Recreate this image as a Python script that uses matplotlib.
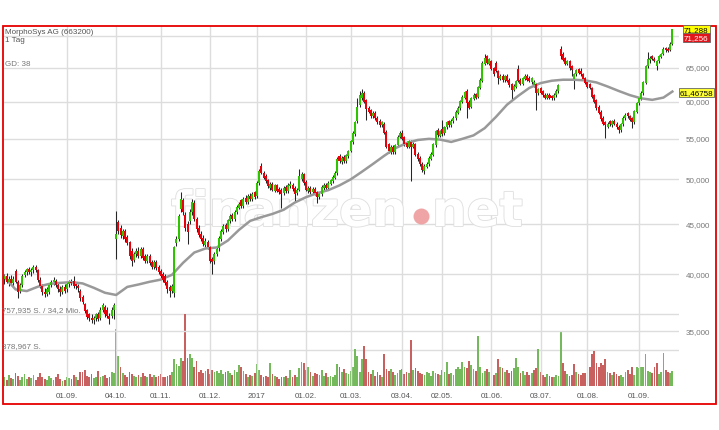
import numpy as np
import pandas as pd
import matplotlib
matplotlib.use('Agg')
import matplotlib.pyplot as plt
import matplotlib.patheffects as pe
from matplotlib.patches import Rectangle
from matplotlib.transforms import blended_transform_factory

plt.rcParams['font.family'] = ['Liberation Sans', 'DejaVu Sans']

# trading days 25.07.2016 - 22.09.2017 (exchange holidays removed)
holidays = ['2016-10-03', '2016-12-26', '2017-04-14', '2017-04-17', '2017-05-01']
days = pd.bdate_range('2016-07-25', '2017-09-22')
days = days[~days.isin(pd.to_datetime(holidays))]

opens = [
    39.6, 39.8, 39.3, 39.6, 39.2, 40.3, 39.3, 38.5, 39.0, 39.9,
    40.2, 40.5, 40.2, 40.4, 40.7, 40.4, 39.5, 38.9, 38.4, 38.2,
    38.4, 39.0, 39.3, 39.4, 39.0, 38.6, 38.4, 38.8, 38.6, 39.1,
    39.3, 39.4, 39.1, 38.9, 38.5, 37.9, 37.3, 36.8, 36.4, 36.1,
    35.9, 36.1, 36.4, 36.1, 36.8, 37.0, 36.8, 36.3, 36.3, 36.8,
    43.5, 45.2, 44.6, 43.8, 44.3, 43.7, 43.2, 42.3, 41.4, 42.0,
    42.3, 41.8, 42.4, 41.8, 41.3, 41.8, 41.2, 40.7, 41.2, 40.7,
    40.3, 40.0, 39.8, 39.3, 38.8, 38.5, 38.3, 43.1, 43.5, 46.6,
    47.6, 46.0, 45.0, 45.3, 46.3, 47.3, 45.6, 44.6, 44.0, 43.6,
    42.9, 43.2, 42.6, 41.5, 41.3, 42.0, 42.5, 43.5, 44.2, 44.9,
    44.5, 45.3, 46.0, 45.5, 46.3, 46.8, 47.6, 47.0, 47.9, 47.4,
    48.1, 47.7, 48.5, 48.1, 49.6, 51.6, 50.8, 50.4, 49.9, 49.0,
    49.5, 48.7, 49.3, 48.9, 48.8, 48.4, 49.1, 48.6, 49.2, 49.4,
    49.0, 48.4, 48.8, 50.0, 50.6, 49.7, 48.6, 49.0, 48.5, 48.9,
    48.5, 48.0, 48.3, 49.0, 49.4, 49.0, 49.5, 49.8, 50.2, 50.7,
    52.8, 52.1, 52.7, 52.2, 52.8, 53.5, 54.6, 55.6, 57.3, 59.5,
    60.5, 61.2, 60.2, 59.2, 58.8, 58.0, 58.5, 57.8, 57.4, 56.8,
    57.0, 55.9, 54.3, 53.3, 54.0, 53.3, 54.2, 55.3, 55.8, 55.2,
    54.5, 54.0, 54.6, 54.0, 54.3, 53.1, 52.6, 51.9, 51.0, 51.5,
    51.8, 52.5, 53.0, 54.2, 56.2, 55.4, 56.3, 55.7, 56.5, 57.3,
    56.8, 57.3, 57.7, 58.5, 59.1, 60.0, 60.6, 61.6, 60.0, 59.3,
    60.4, 61.1, 60.7, 62.0, 63.0, 65.6, 66.8, 65.6, 66.0, 64.9,
    65.8, 64.5, 63.3, 63.8, 63.1, 63.8, 63.2, 62.5, 61.7, 62.2,
    64.8, 63.2, 62.6, 63.3, 63.8, 63.5, 62.8, 62.4, 62.5, 61.2,
    62.0, 61.5, 61.0, 60.6, 61.0, 60.8, 60.5, 60.9, 61.5, 68.0,
    67.2, 66.5, 65.6, 66.0, 65.2, 63.3, 64.0, 64.8, 64.5, 64.0,
    63.4, 62.8, 62.5, 62.0, 60.9, 60.2, 59.3, 58.6, 57.8, 57.2,
    56.6, 57.3, 56.8, 57.4, 57.0, 56.6, 56.1, 56.9, 57.7, 58.4,
    58.0, 57.7, 57.2, 58.6, 59.8, 60.4, 61.2, 62.7, 65.2, 66.2,
    66.8, 66.4, 65.3, 66.0, 66.7, 67.2, 68.1, 68.0, 67.8, 68.8,
]
highs = [
    40.0, 40.1, 39.8, 39.9, 39.8, 40.5, 39.5, 39.2, 40.0, 40.4,
    40.6, 40.7, 40.6, 40.9, 40.9, 40.5, 39.7, 39.1, 38.7, 38.8,
    39.2, 39.5, 39.7, 39.6, 39.2, 38.9, 39.0, 39.1, 39.3, 39.5,
    39.6, 39.8, 39.3, 39.1, 38.6, 38.1, 37.4, 36.9, 36.5, 36.4,
    36.3, 36.5, 36.6, 37.0, 37.4, 37.2, 37.0, 36.5, 37.0, 37.4,
    46.4, 45.4, 44.9, 44.5, 44.5, 43.9, 43.3, 42.5, 42.2, 42.5,
    42.6, 42.6, 42.6, 42.0, 42.0, 42.0, 41.4, 41.4, 41.4, 40.9,
    40.5, 40.2, 40.0, 39.5, 39.0, 39.1, 42.8, 43.8, 46.1, 48.5,
    47.9, 46.3, 45.3, 46.6, 47.8, 47.6, 45.8, 44.9, 44.3, 43.9,
    43.6, 43.4, 42.8, 41.7, 42.2, 42.6, 43.8, 44.5, 45.0, 45.1,
    45.6, 46.1, 46.2, 46.5, 47.1, 47.4, 47.8, 48.0, 48.2, 48.3,
    48.4, 48.5, 48.7, 49.8, 51.2, 52.0, 51.0, 50.6, 50.1, 49.7,
    49.7, 49.5, 49.5, 49.1, 49.0, 49.2, 49.3, 49.6, 49.8, 49.6,
    49.2, 49.0, 51.2, 50.9, 50.8, 49.9, 49.2, 49.2, 49.1, 49.1,
    48.7, 48.5, 49.3, 49.6, 49.6, 49.8, 50.1, 50.5, 51.0, 52.7,
    53.1, 52.8, 52.9, 53.1, 53.6, 54.9, 56.0, 57.4, 60.5, 61.5,
    61.8, 61.5, 60.4, 59.4, 59.0, 58.7, 58.7, 58.0, 57.6, 57.4,
    57.2, 56.1, 54.5, 54.2, 54.2, 54.4, 55.5, 56.0, 56.2, 55.4,
    54.7, 54.9, 54.8, 54.6, 54.5, 53.3, 52.8, 52.1, 51.8, 52.1,
    52.8, 53.3, 54.5, 56.2, 56.4, 56.2, 57.5, 56.7, 57.4, 57.5,
    57.6, 58.0, 58.8, 59.4, 60.3, 60.9, 61.6, 61.8, 60.2, 60.7,
    61.2, 61.3, 62.3, 63.4, 66.0, 67.2, 67.0, 66.5, 66.2, 65.1,
    66.0, 64.7, 64.0, 64.0, 63.9, 64.0, 63.4, 62.7, 62.5, 63.2,
    65.5, 63.4, 63.6, 64.0, 64.0, 63.7, 63.6, 63.1, 62.7, 62.0,
    62.2, 61.7, 61.2, 61.2, 61.2, 61.0, 61.2, 61.8, 62.6, 68.4,
    67.4, 66.7, 66.2, 66.2, 65.4, 64.2, 64.8, 65.0, 65.0, 64.2,
    63.6, 63.0, 62.7, 62.2, 61.1, 60.4, 59.5, 58.8, 58.0, 57.4,
    57.2, 57.5, 57.5, 57.6, 57.2, 56.8, 57.1, 58.1, 58.4, 58.6,
    58.2, 57.9, 58.9, 60.0, 60.7, 61.5, 63.0, 65.5, 67.5, 66.8,
    67.0, 66.6, 66.2, 67.0, 67.3, 68.2, 68.3, 68.2, 69.0, 71.288,
]
lows = [
    39.1, 39.2, 38.9, 39.1, 38.9, 39.2, 37.8, 38.3, 38.8, 39.7,
    39.9, 40.0, 39.8, 40.1, 40.2, 39.3, 38.7, 38.1, 37.9, 38.0,
    38.2, 38.8, 39.0, 38.8, 38.4, 38.0, 38.2, 38.3, 38.4, 38.8,
    39.0, 38.7, 38.6, 38.4, 37.6, 37.3, 36.5, 36.0, 35.8, 35.7,
    35.6, 35.8, 35.8, 35.9, 36.6, 36.2, 36.1, 35.6, 36.1, 36.0,
    41.5, 44.0, 43.6, 43.5, 43.2, 42.9, 41.5, 40.8, 41.2, 41.7,
    41.6, 41.6, 41.4, 41.1, 41.1, 40.9, 40.5, 40.5, 40.4, 40.0,
    39.6, 39.3, 39.0, 38.3, 37.9, 38.3, 37.9, 42.8, 43.3, 46.3,
    46.0, 44.3, 43.0, 45.0, 46.0, 45.3, 44.2, 43.7, 43.3, 42.8,
    42.7, 42.4, 41.1, 40.0, 41.0, 41.8, 42.3, 43.3, 44.0, 44.2,
    44.3, 45.1, 45.3, 45.3, 46.1, 46.6, 46.8, 46.8, 47.2, 47.2,
    47.5, 47.5, 47.8, 47.9, 49.4, 50.6, 50.0, 49.6, 49.0, 48.8,
    48.6, 48.5, 48.5, 48.3, 46.8, 48.2, 48.4, 48.4, 49.0, 48.7,
    47.4, 48.2, 48.6, 49.8, 49.4, 48.6, 48.4, 48.3, 48.3, 48.2,
    47.3, 47.8, 48.1, 48.8, 48.8, 48.8, 49.3, 49.6, 50.0, 50.5,
    52.0, 51.9, 52.0, 52.0, 52.6, 53.3, 54.4, 55.4, 57.1, 59.3,
    60.3, 59.8, 57.5, 58.4, 57.8, 57.8, 57.5, 57.0, 56.6, 56.6,
    55.6, 53.8, 53.2, 53.1, 53.1, 53.1, 54.0, 55.1, 54.8, 54.1,
    53.8, 53.8, 49.8, 53.8, 52.8, 52.2, 51.6, 50.9, 50.6, 51.3,
    51.6, 52.3, 52.8, 54.0, 55.3, 55.2, 55.4, 55.5, 56.3, 56.6,
    56.6, 57.1, 57.5, 58.3, 58.9, 59.8, 60.4, 57.8, 59.0, 59.1,
    60.2, 60.4, 60.5, 61.8, 62.8, 65.4, 65.6, 65.4, 64.6, 63.8,
    64.3, 62.5, 63.1, 62.9, 62.9, 62.8, 62.2, 60.3, 61.5, 62.0,
    62.8, 62.4, 62.4, 63.1, 63.0, 62.8, 62.6, 62.2, 58.8, 61.0,
    61.1, 60.7, 60.4, 60.4, 60.4, 60.3, 60.3, 60.7, 61.3, 66.3,
    66.0, 65.4, 65.4, 64.7, 63.8, 61.8, 63.8, 64.0, 63.8, 63.1,
    62.5, 62.0, 61.8, 60.5, 59.8, 58.9, 58.3, 57.4, 56.8, 55.1,
    56.4, 56.7, 56.6, 56.8, 56.3, 55.7, 55.9, 56.7, 57.5, 57.8,
    57.3, 56.4, 57.0, 58.4, 59.6, 60.2, 61.0, 62.5, 65.0, 65.8,
    66.2, 65.9, 64.7, 65.8, 66.5, 67.0, 67.5, 67.4, 67.6, 68.6,
]
closes = [
    39.8, 39.3, 39.6, 39.2, 39.6, 39.3, 38.4, 39.0, 39.8, 40.2,
    40.5, 40.2, 40.4, 40.7, 40.4, 39.5, 38.9, 38.4, 38.2, 38.6,
    39.0, 39.3, 39.5, 39.0, 38.6, 38.4, 38.8, 38.5, 39.1, 39.3,
    39.2, 38.9, 38.9, 38.7, 37.8, 37.5, 36.7, 36.2, 36.1, 35.9,
    36.1, 36.4, 36.0, 36.8, 37.2, 36.4, 36.3, 36.0, 36.8, 37.2,
    44.0, 44.3, 43.9, 44.3, 43.5, 43.1, 41.8, 41.3, 42.0, 42.3,
    41.8, 42.4, 41.6, 41.3, 41.8, 41.1, 40.7, 41.2, 40.6, 40.2,
    39.8, 39.5, 39.2, 38.6, 38.5, 38.9, 42.6, 43.5, 45.9, 47.8,
    46.3, 44.6, 44.2, 46.3, 47.4, 45.6, 44.5, 43.9, 43.5, 43.0,
    43.3, 42.6, 41.3, 41.2, 42.0, 42.4, 43.6, 44.3, 44.8, 44.5,
    45.4, 45.9, 45.5, 46.3, 46.9, 47.2, 47.0, 47.8, 47.4, 48.1,
    47.7, 48.3, 48.0, 49.6, 51.0, 50.8, 50.2, 49.8, 49.2, 49.5,
    48.8, 49.3, 48.7, 48.5, 48.3, 49.0, 48.6, 49.4, 49.5, 48.9,
    48.3, 48.8, 50.4, 50.6, 49.6, 48.8, 49.0, 48.5, 48.9, 48.4,
    48.0, 48.3, 49.1, 49.4, 49.0, 49.6, 49.9, 50.3, 50.8, 52.5,
    52.2, 52.6, 52.2, 52.9, 53.4, 54.7, 55.8, 57.2, 59.3, 61.0,
    61.3, 60.0, 59.0, 58.6, 58.0, 58.5, 57.7, 57.2, 56.8, 57.2,
    55.8, 54.0, 53.4, 54.0, 53.3, 54.2, 55.3, 55.8, 55.0, 54.3,
    54.0, 54.7, 54.0, 54.4, 53.0, 52.4, 51.8, 51.1, 51.6, 51.9,
    52.6, 53.1, 54.3, 56.0, 55.5, 56.0, 55.6, 56.5, 57.2, 56.8,
    57.4, 57.8, 58.6, 59.2, 60.1, 60.7, 61.4, 59.8, 59.2, 60.5,
    61.0, 60.6, 62.1, 63.2, 65.8, 66.5, 65.8, 66.3, 64.8, 64.0,
    64.5, 63.4, 63.8, 63.1, 63.7, 63.0, 62.4, 61.7, 62.3, 63.0,
    63.0, 62.6, 63.4, 63.8, 63.2, 63.0, 63.4, 62.9, 61.2, 61.8,
    61.3, 60.9, 60.6, 61.0, 60.6, 60.5, 61.0, 61.6, 62.4, 66.9,
    66.2, 65.6, 66.0, 64.9, 64.6, 64.0, 64.6, 64.2, 64.0, 63.3,
    62.7, 62.2, 62.0, 60.7, 60.0, 59.1, 58.5, 57.6, 57.0, 56.8,
    57.0, 56.9, 57.3, 57.0, 56.5, 56.1, 56.9, 57.8, 58.2, 58.0,
    57.5, 57.2, 58.7, 59.8, 60.5, 61.3, 62.8, 65.3, 66.3, 66.5,
    66.4, 66.1, 66.0, 66.8, 67.1, 68.0, 67.7, 67.6, 68.8, 71.256,
]
# volume in 1000 shares
volume = [
    90, 60, 120, 80, 70, 140, 110, 60, 90, 130,
    70, 100, 80, 120, 60, 90, 140, 100, 70, 60,
    110, 80, 60, 90, 130, 70, 50, 60, 100, 80,
    70, 120, 90, 60, 145, 150, 170, 110, 90, 130,
    80, 100, 160, 90, 110, 120, 80, 100, 150, 140,
    600, 315, 200, 140, 120, 100, 150, 130, 110, 100,
    120, 90, 140, 110, 100, 130, 90, 120, 100, 110,
    130, 100, 90, 110, 120, 150, 280, 230, 210, 290,
    260, 755, 290, 335, 300, 200, 260, 150, 170, 140,
    160, 180, 130, 170, 150, 160, 140, 170, 130, 150,
    160, 140, 120, 170, 150, 220, 200, 160, 130, 100,
    120, 110, 140, 230, 170, 120, 100, 110, 90, 240,
    130, 110, 100, 70, 90, 100, 110, 80, 170, 100,
    120, 90, 190, 250, 240, 170, 200, 150, 110, 140,
    130, 120, 170, 110, 140, 90, 110, 100, 120, 230,
    200, 150, 180, 140, 130, 160, 200, 390, 315, 150,
    280, 420, 280, 150, 130, 170, 110, 150, 120, 100,
    335, 180, 160, 180, 150, 120, 140, 170, 180, 130,
    150, 140, 483, 170, 190, 160, 140, 130, 120, 150,
    140, 110, 160, 140, 130, 120, 170, 150, 250, 130,
    140, 120, 180, 200, 180, 250, 200, 190, 260, 220,
    180, 160, 525, 200, 140, 160, 180, 150, 170, 120,
    140, 280, 200, 190, 150, 170, 140, 160, 190, 300,
    200, 140, 160, 120, 150, 120, 140, 170, 190, 385,
    150, 120, 100, 130, 110, 100, 90, 120, 110, 577,
    245, 160, 130, 110, 120, 230, 150, 130, 120, 140,
    140, 120, 200, 335, 365, 240, 200, 240, 220, 280,
    150, 140, 120, 150, 130, 110, 120, 100, 150, 170,
    130, 200, 120, 200, 190, 200, 200, 335, 160, 150,
    140, 200, 240, 130, 150, 350, 170, 150, 140, 160,
]
# GD 38 read every 5th trading day, plus the last day
ma_values = [
    39.75, 38.6, 38.45, 38.85, 39.1, 39.2, 39.27, 39.15, 38.75, 38.3,
    38.1, 38.83, 39.05, 39.3, 39.5, 39.95, 41.1, 42.1, 42.5, 42.6,
    43.3, 44.4, 45.35, 45.75, 46.1, 46.55, 47.35, 47.95, 48.4, 48.75,
    49.3, 50.0, 50.9, 51.85, 52.85, 53.8, 54.45, 54.85, 55.0, 54.9,
    54.6, 55.0, 55.45, 56.4, 57.9, 59.6, 60.85, 62.0, 62.7, 63.05,
    63.2, 63.2, 63.1, 62.8, 62.2, 61.55, 60.95, 60.5, 60.28, 60.6,
    61.46758,
]
price_levels = [35, 40, 45, 50, 55, 60, 65, 70]
vol_levels = [378967, 757935]
tick_dates = ['2016-09-01', '2016-10-04', '2016-11-01', '2016-12-01', '2017-01-02',
              '2017-02-01', '2017-03-01', '2017-04-03', '2017-05-02', '2017-06-01',
              '2017-07-03', '2017-08-01', '2017-09-01']
tick_labels = ['01.09.', '04.10.', '01.11.', '01.12.', '2017', '01.02.', '01.03.',
               '03.04.', '02.05.', '01.06.', '03.07.', '01.08.', '01.09.']

W, H = 719, 431
def fx(x):
    return x / W
def fy(y):
    return 1 - y / H

o = np.array(opens); c = np.array(closes)
hi = np.array(highs); lo = np.array(lows)
vol = np.array(volume) * 1000
n = len(c)
idx = np.arange(n)
ticks = [days.get_loc(pd.Timestamp(d)) for d in tick_dates]

green, red = '#2fc400', '#e8000b'
cand_col = np.where(c >= o, green, red)
prev = np.concatenate([[c[0]], c[:-1]])
vol_col = np.where(c >= prev, '#74b95c', '#c96060')

fig = plt.figure(figsize=(W / 100, H / 100), dpi=100)
rect = [fx(3), fy(387), (679 - 3) / W, (387 - 27) / H]
ax_v = fig.add_axes(rect)
ax = fig.add_axes(rect)
ax.patch.set_visible(False)

# volume panel
ax_v.bar(idx, vol, width=0.8, color=vol_col, edgecolor='none', zorder=2)
for v in vol_levels:
    ax_v.axhline(v, color='#dddddd', lw=1, zorder=1)
ax_v.set_ylim(0, 757935 * 360 / 72)
ax_v.set_xlim(-0.63, 301.97)
ax_v.axis('off')

# price panel
ax.set_yscale('log')
ax.set_ylim(30.76, 71.71)
ax.set_xlim(-0.63, 301.97)
for p in price_levels:
    ax.axhline(p, color='#dddddd', lw=1, zorder=0.5)
for t in ticks:
    ax.axvline(t, color='#dddddd', lw=1, zorder=0.5)

# watermark
wm = dict(transform=fig.transFigure, fontsize=35, fontweight='bold', family='DejaVu Sans',
          color='white', va='baseline', ha='left', zorder=1.5,
          path_effects=[pe.Stroke(linewidth=1.3, foreground='#e0e0e0'), pe.Normal()])
ax.text(fx(171), fy(227), 'finanzen', **wm)
ax.text(fx(432), fy(227), 'net', **wm)
ax.plot([fx(421)], [fy(217)], 'o', ms=11.5, color='#efa5a5', mec='none',
        transform=fig.transFigure, zorder=1.6)

ax.vlines(idx, lo, hi, color='#262626', lw=0.75, zorder=2)
ax.plot([i * 5 for i in range(len(ma_values) - 1)] + [n - 1], ma_values,
        color='#999999', lw=1.8, zorder=2.5)
ax.bar(idx, np.maximum(np.abs(c - o), 0.05), bottom=np.minimum(o, c), width=0.9,
       color=cand_col, edgecolor='none', zorder=3)

ax.set_xticks(ticks)
ax.set_xticklabels(tick_labels)
ax.tick_params(axis='x', length=0, pad=4.2, labelsize=5.8, labelcolor='#555555')
ax.set_yticks([])
ax.yaxis.set_minor_locator(matplotlib.ticker.NullLocator())
for s in ax.spines.values():
    s.set_visible(False)

tr = blended_transform_factory(ax.transAxes, ax.transData)
for p in price_levels[:-1]:
    ax.text(1.0104, p, f'{p},000', transform=tr, fontsize=5.8, color='#777777',
            va='center', ha='left', clip_on=False)

# captions
txt = dict(fontsize=5.8, va='center', ha='left')
fig.text(fx(5), fy(32.5), 'MorphoSys AG (663200)', color='#555555', **txt)
fig.text(fx(5), fy(40.5), '1 Tag', color='#555555', **txt)
fig.text(fx(5), fy(64.5), 'GD: 38', color='#777777', **txt)
fig.text(fx(1.5), fy(311), '757,935 S. / 34,2 Mio.', color='#777777', **txt)
fig.text(fx(1.5), fy(347), '378,967 S.', color='#777777', **txt)

# last value boxes
fig.text(fx(684), fy(30.3), f'{highs[-1]:.3f}'.replace('.', ','), color='black',
         bbox=dict(boxstyle='square,pad=0.12', fc='#ffff00', ec='#666666', lw=0.6), **txt)
fig.text(fx(684), fy(38.2), f'{closes[-1]:.3f}'.replace('.', ','), color='white',
         bbox=dict(boxstyle='square,pad=0.12', fc='#e4141b', ec='#666666', lw=0.6), **txt)
fig.text(fx(679.5), fy(93.5), f'{ma_values[-1]:.5f}'.replace('.', ','), color='black',
         bbox=dict(boxstyle='square,pad=0.12', fc='#ffff33', ec='#666666', lw=0.6), **txt)

# red frame
fig.patches.append(Rectangle((fx(3), fy(405)), fx(716) - fx(3), fy(27) - fy(405),
                             transform=fig.transFigure, fill=False, ec='#e60000', lw=1.3))

fig.savefig('out.png', dpi=100)
